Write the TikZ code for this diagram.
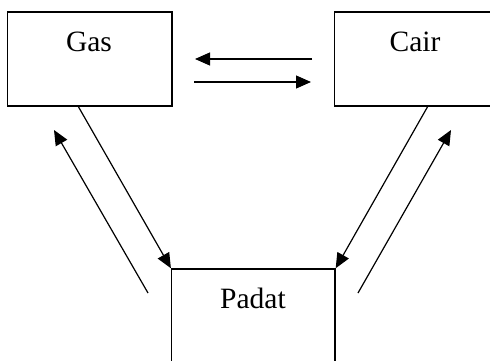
\documentclass[tikz,border=0pt]{standalone}
\usepackage{fontspec}
\setmainfont{Liberation Serif}
\usetikzlibrary{arrows.meta}
\begin{document}
\begin{tikzpicture}[x=1pt,y=-1pt,
  box/.style={draw, line width=1.5pt, rectangle, inner sep=0pt},
  lbl/.style={inner sep=0pt, font=\fontsize{29.5}{34}\selectfont},
  arr/.style={line width=1.2pt, -{Triangle[length=15pt,width=13pt]}}]
\useasboundingbox (0,0) rectangle (490,361);
\clip (0,0) rectangle (490,361);
\node[box, minimum width=164.5pt, minimum height=94pt] (gas) at (89.75,59) {};
\node[box, minimum width=170pt, minimum height=94pt] (cair) at (419.3,59) {};
\node[box, minimum width=163.3pt, minimum height=140pt] (padat) at (253.3,339) {};
\node[lbl] (gast) at (89,42) {Gas};
\node[lbl] (cairt) at (415,42) {Cair};
\node[lbl] (padatt) at (253,298) {Padat};
% horizontal arrows
\coordinate (h1s) at (312,59);
\coordinate (h1e) at (195,59);
\coordinate (h2s) at (194,82);
\coordinate (h2e) at (311,82);
\draw[arr] (h1s) -- (h1e);
\draw[arr] (h2s) -- (h2e);
% left diagonals
\coordinate (g1) at (78,106);
\draw[arr] (g1) -- (padat.north west);
\coordinate (l2s) at (148,293);
\coordinate (l2e) at (54,130);
\draw[arr] (l2s) -- (l2e);
% right diagonals
\coordinate (c1) at (428,106);
\draw[arr] (c1) -- (padat.north east);
\coordinate (r2s) at (358,293);
\coordinate (r2e) at (451,130);
\draw[arr] (r2s) -- (r2e);
\end{tikzpicture}
\end{document}
